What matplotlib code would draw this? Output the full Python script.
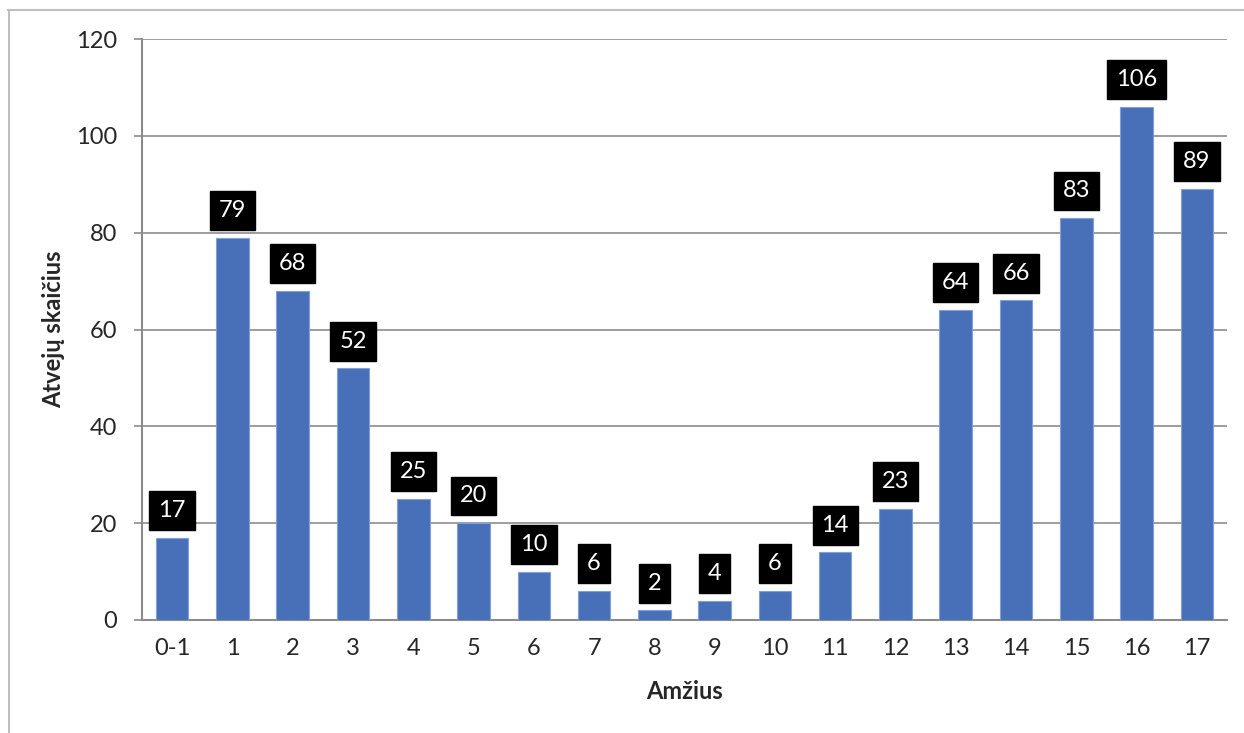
import matplotlib
matplotlib.use("Agg")
import matplotlib.pyplot as plt
from matplotlib.lines import Line2D

categories = ["0-1", "1", "2", "3", "4", "5", "6", "7", "8", "9", "10", "11", "12", "13", "14", "15", "16", "17"]
values = [17, 79, 68, 52, 25, 20, 10, 6, 2, 4, 6, 14, 23, 64, 66, 83, 106, 89]
yticks = [0, 20, 40, 60, 80, 100, 120]

plt.rcParams['font.family'] = ['Lato', 'DejaVu Sans']
FS = 17

fig = plt.figure(figsize=(12.44, 7.33), dpi=100)
ax = fig.add_axes([142/1244, 1-620/733, (1227-142)/1244, (620-39)/733])

x = list(range(len(categories)))
ax.bar(x, values, width=0.54, color="#4870B8", edgecolor="#7FA0D8", linewidth=0.8, zorder=3)

for xi, v in zip(x, values):
    ax.annotate(str(v), xy=(xi, v), xytext=(0, 12), textcoords="offset points",
                ha="center", va="bottom", color="white", fontsize=FS,
                bbox=dict(boxstyle="square,pad=0.38", fc="black", ec="black"), zorder=4)

ax.set_xlim(-0.5, len(categories) - 0.5)
ax.set_ylim(0, 120)
ax.set_yticks(yticks)
ax.set_yticklabels([str(t) for t in yticks])
ax.set_xticks(x)
ax.set_xticklabels(categories)
ax.yaxis.grid(True, color="#8C8C8C", linewidth=1.2, zorder=0)
ax.set_axisbelow(True)
for s in ["top", "right"]:
    ax.spines[s].set_visible(False)
for s in ["left", "bottom"]:
    ax.spines[s].set_color("#8C8C8C")
    ax.spines[s].set_linewidth(1.5)
ax.tick_params(axis="y", length=6, width=1.2, color="#8C8C8C", labelsize=FS, labelcolor="#262626", pad=12)
ax.tick_params(axis="x", length=0, labelsize=FS, labelcolor="#262626", pad=13)

ax.set_xlabel("Amžius", fontsize=FS, fontweight="bold", color="#262626", labelpad=15)
ax.set_ylabel("Atvejų skaičius", fontsize=FS, fontweight="bold", color="#262626", labelpad=8)

# outer chart border (light gray)
fig.add_artist(Line2D([8.5/1244, 8.5/1244], [0, 1-10/733], transform=fig.transFigure, color="#BFBFBF", linewidth=1.5))
fig.add_artist(Line2D([8/1244, 1], [1-10/733, 1-10/733], transform=fig.transFigure, color="#BFBFBF", linewidth=1.5))

fig.savefig("out.png", dpi=100)
